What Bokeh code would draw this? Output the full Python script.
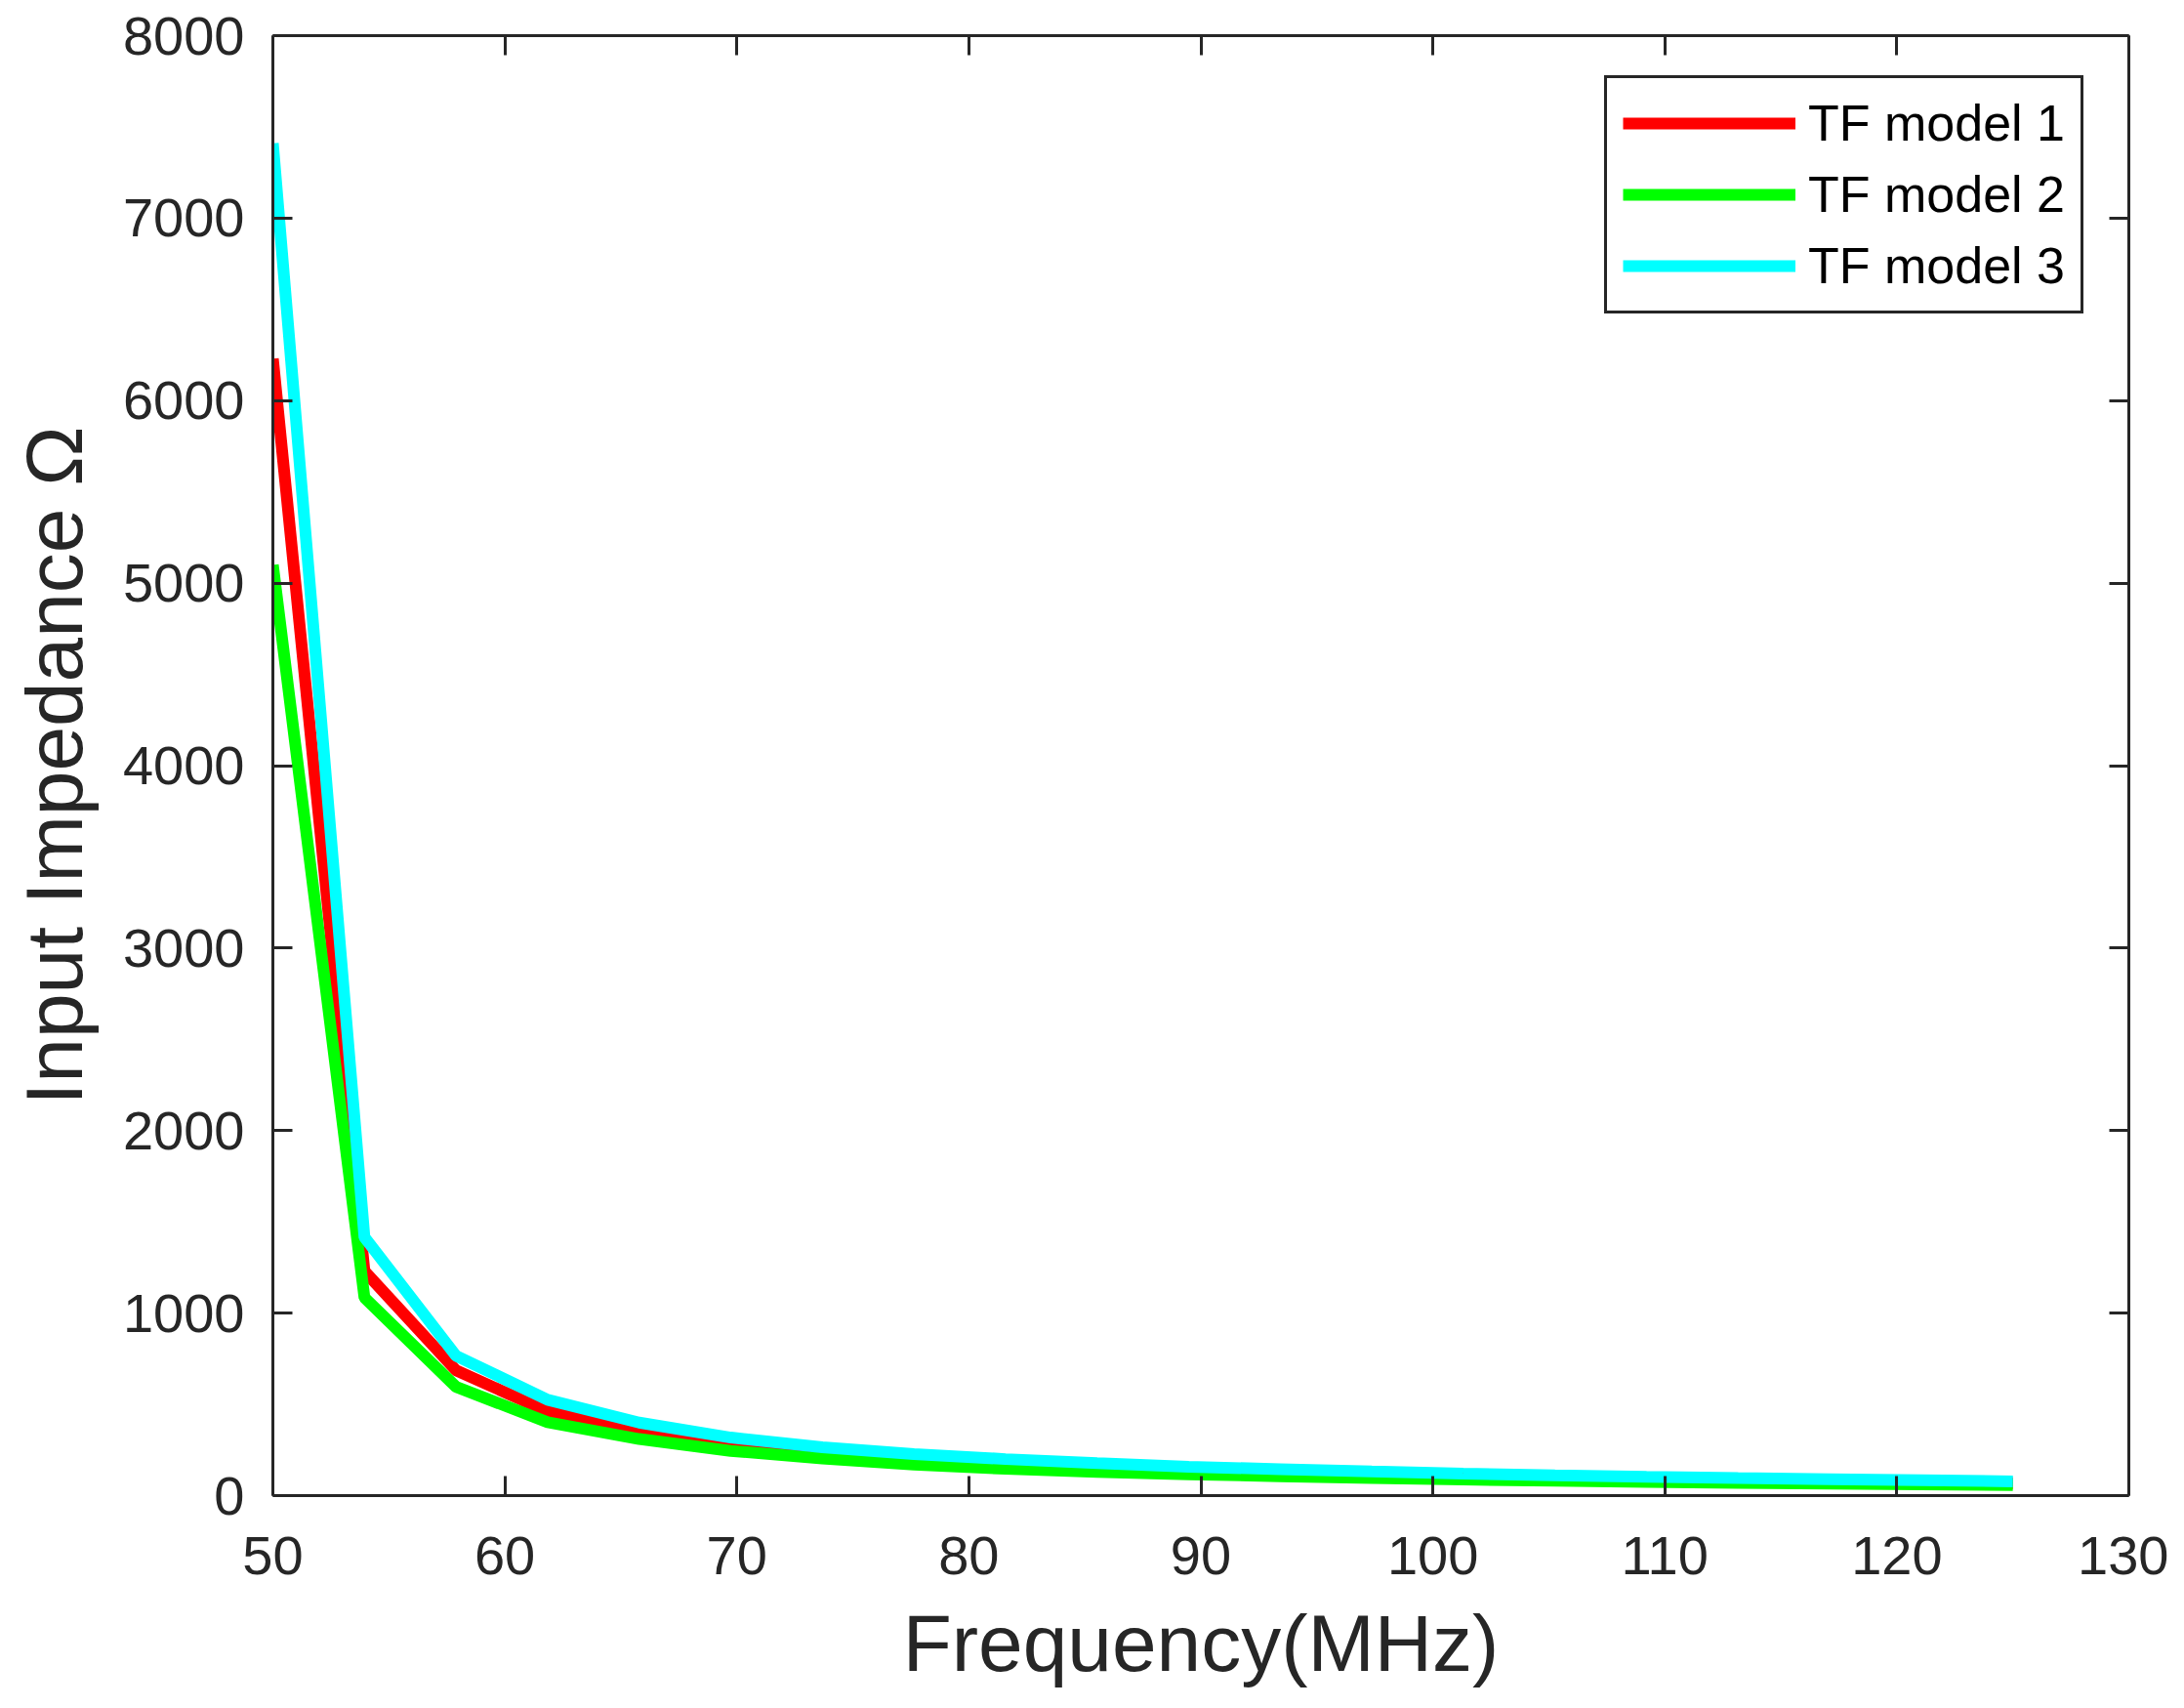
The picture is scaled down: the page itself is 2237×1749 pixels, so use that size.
from bokeh.plotting import figure
from bokeh.models import Range1d, LinearAxis, SingleIntervalTicker, Legend, LegendItem
from bokeh.embed import file_html
from bokeh.resources import INLINE

# ---- data ----
freq_mhz = [50.0, 53.947, 57.895, 61.842, 65.789, 69.737, 73.684, 77.632, 81.579, 85.526,
            89.474, 93.421, 97.368, 101.316, 105.263, 109.211, 113.158, 117.105, 121.053, 125.0]
tf_model_1 = [6230, 1230, 686, 462, 356, 282, 233, 198, 172, 152,
              136, 123, 112, 103, 95, 88, 82, 77, 72, 68]
tf_model_2 = [5100, 1085, 596, 402, 310, 245, 203, 170, 147, 130,
              117, 106, 96, 88, 81, 75, 70, 66, 62, 58]
tf_model_3 = [7410, 1416, 766, 525, 400, 318, 265, 228, 200, 178,
              158, 145, 132, 120, 111, 103, 96, 90, 84, 78]
series_names = ["TF model 1", "TF model 2", "TF model 3"]
series_colors = ["#FF0000", "#00FF00", "#00FFFF"]
x_label = "Frequency(MHz)"
y_label = "Input Impedance \u03a9"

AX = "#262626"
FONT = "Liberation Sans"

p = figure(frame_width=1901, frame_height=1495,
           x_range=Range1d(50, 130), y_range=Range1d(0, 8000),
           output_backend="svg", toolbar_location=None,
           min_border_left=279, min_border_right=41,
           min_border_top=36, min_border_bottom=190)
p.outline_line_color = None
p.xgrid.visible = False
p.ygrid.visible = False
p.background_fill_color = "white"
p.border_fill_color = "white"

renderers = []
for ys, c in zip([tf_model_1, tf_model_2, tf_model_3], series_colors):
    r = p.line(freq_mhz, ys, line_color=c, line_width=12)
    renderers.append(r)


def style_axis(ax, show_labels):
    ax.axis_line_color = AX
    ax.axis_line_width = 3
    ax.major_tick_line_color = AX
    ax.major_tick_line_width = 3
    ax.major_tick_in = 20
    ax.major_tick_out = 0
    ax.minor_tick_line_color = None
    if show_labels:
        ax.major_label_text_font = FONT
        ax.major_label_text_font_size = "56px"
        ax.major_label_text_color = AX
        ax.axis_label_text_font = FONT
        ax.axis_label_text_font_size = "82px"
        ax.axis_label_text_font_style = "normal"
        ax.axis_label_text_color = AX
    else:
        ax.major_label_text_font_size = "0px"
        ax.major_label_text_color = None
        ax.major_label_standoff = 0


p.xaxis.ticker = SingleIntervalTicker(interval=10)
p.yaxis.ticker = SingleIntervalTicker(interval=1000)
p.xaxis.axis_label = x_label
p.yaxis.axis_label = y_label
style_axis(p.xaxis[0], True)
style_axis(p.yaxis[0], True)
p.xaxis.major_label_standoff = 38
p.yaxis.major_label_standoff = 25
p.xaxis.axis_label_standoff = 22
p.yaxis.axis_label_standoff = 22

top_ax = LinearAxis(ticker=SingleIntervalTicker(interval=10))
right_ax = LinearAxis(ticker=SingleIntervalTicker(interval=1000))
style_axis(top_ax, False)
style_axis(right_ax, False)
p.add_layout(top_ax, "above")
p.add_layout(right_ax, "right")

items = [LegendItem(label=n, renderers=[r]) for n, r in zip(series_names, renderers)]
legend = Legend(items=items, location=(1364, 1210))
legend.margin = 0
legend.padding = 16
legend.glyph_width = 177
legend.glyph_height = 60
legend.label_height = 60
legend.spacing = 13
legend.label_standoff = 13
legend.label_text_font = FONT
legend.label_text_font_size = "52px"
legend.label_text_color = "black"
legend.border_line_color = AX
legend.border_line_width = 3
legend.border_line_alpha = 1.0
legend.background_fill_color = "white"
legend.background_fill_alpha = 1.0
p.add_layout(legend, "center")

open("out.html", "w").write(file_html(p, INLINE))
